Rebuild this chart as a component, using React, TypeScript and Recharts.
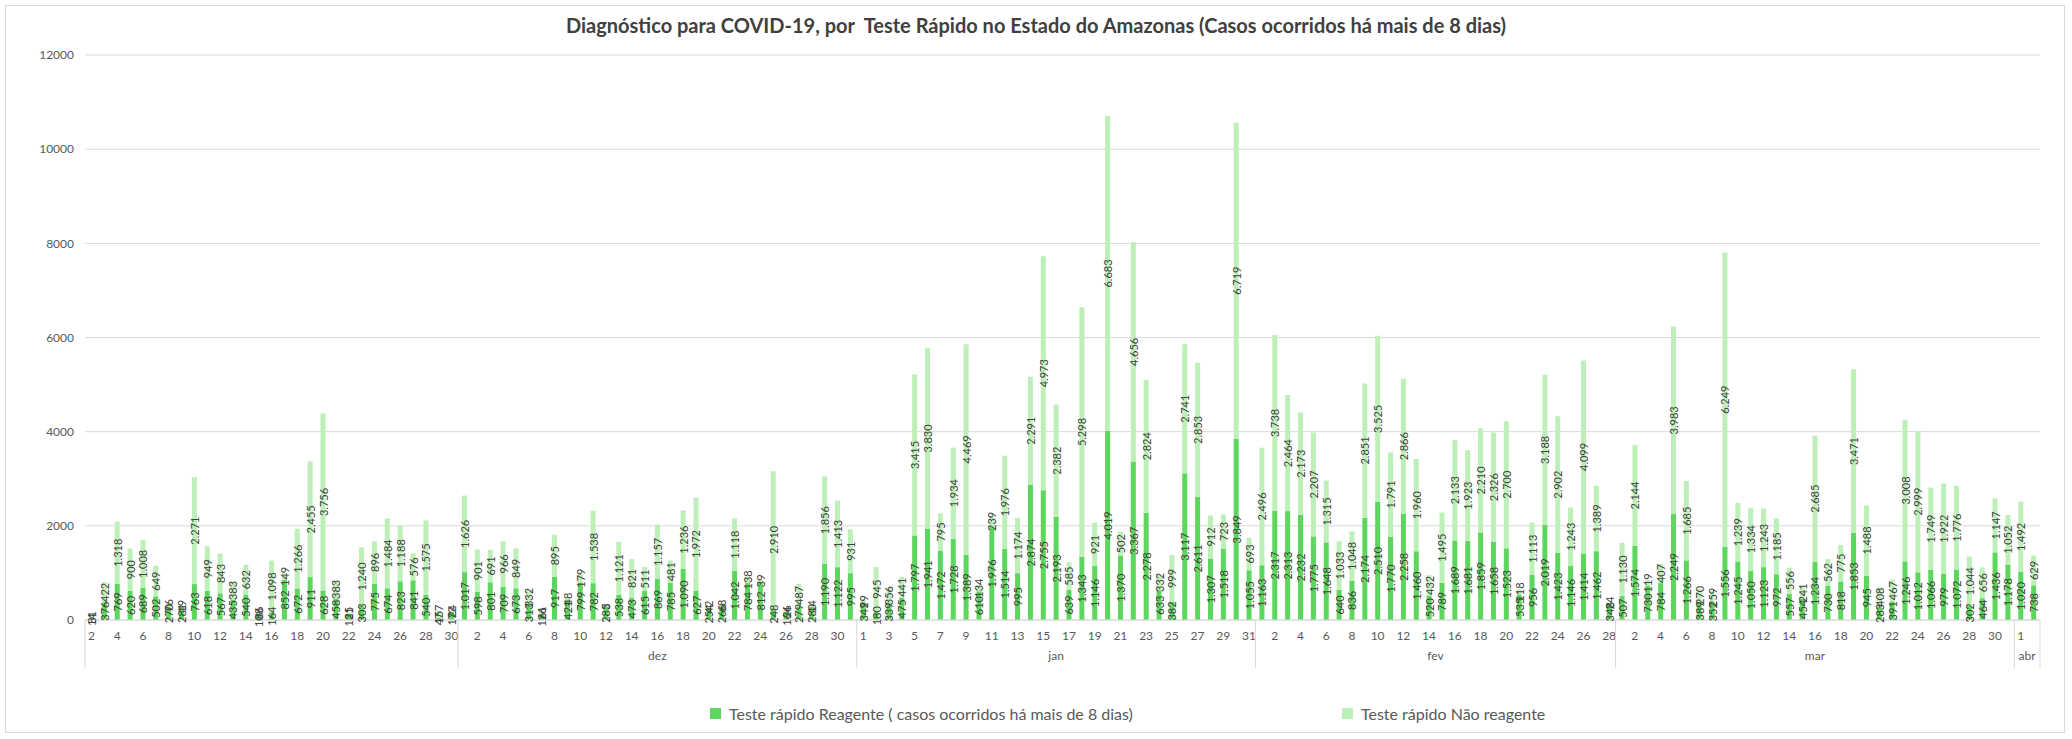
import React from 'react'
import { BarChart, Bar, XAxis, YAxis, CartesianGrid, LabelList } from 'recharts'

// categorias: 2 nov até 2 abr
const meses = ['nov', 'dez', 'jan', 'fev', 'mar', 'abr']
const rotulosMes = ['', 'dez', 'jan', 'fev', 'mar', 'abr']
const diaInicial = [2, 1, 1, 1, 1, 1]
const diaFinal = [30, 31, 31, 28, 31, 2]

const yTicks = [0, 2000, 4000, 6000, 8000, 10000, 12000]

// Teste rápido Reagente (casos ocorridos há mais de 8 dias)
const reagenteNov = [14, 376, 769, 620, 689, 502, 270, 281, 763, 618, 567, 435, 540, 108, 164, 852, 672, 911, 628, 458, 131, 303, 775, 674, 823, 841, 540, 47, 172]
const reagenteDez = [1017, 598, 801, 709, 673, 313, 126, 917, 421, 799, 782, 285, 538, 473, 615, 869, 785, 1090, 627, 254, 266, 1042, 784, 812, 248, 164, 279, 280, 1190, 1122, 995]
const reagenteJan = [342, 180, 339, 475, 1797, 1941, 1472, 1728, 1389, 610, 1976, 1514, 995, 2874, 2755, 2193, 639, 1343, 1146, 4019, 1370, 3367, 2278, 633, 382, 3117, 2611, 1307, 1518, 3849, 1055]
const reagenteFev = [1163, 2317, 2313, 2232, 1775, 1648, 640, 836, 2174, 2510, 1770, 2258, 1460, 520, 789, 1689, 1681, 1859, 1658, 1523, 535, 956, 2019, 1423, 1146, 1414, 1462, 348]
const reagenteMar = [507, 1574, 730, 784, 2249, 1266, 389, 352, 1556, 1245, 1050, 1123, 972, 557, 454, 1234, 730, 818, 1853, 945, 283, 391, 1246, 1012, 1066, 979, 1072, 302, 464, 1436, 1178]
const reagenteAbr = [1020, 738]

// Teste rápido Não reagente
const naoReagenteNov = [81, 422, 1318, 900, 1008, 649, 76, 19, 2271, 949, 843, 383, 632, 86, 1098, 149, 1266, 2455, 3756, 383, 25, 1240, 896, 1484, 1188, 576, 1575, 157, 24]
const naoReagenteDez = [1626, 901, 691, 966, 849, 332, 61, 895, 48, 179, 1538, 3, 1121, 821, 511, 1157, 481, 1236, 1972, 42, 68, 1118, 138, 39, 2910, 26, 487, 14, 1856, 1413, 931]
const naoReagenteJan = [99, 945, 356, 441, 3415, 3830, 795, 1934, 4469, 134, 239, 1976, 1174, 2291, 4973, 2382, 585, 5298, 921, 6683, 502, 4656, 2824, 332, 999, 2741, 2853, 912, 723, 6719, 693]
const naoReagenteFev = [2496, 3738, 2464, 2173, 2207, 1315, 1033, 1048, 2851, 3525, 1791, 2866, 1960, 432, 1495, 2133, 1923, 2210, 2326, 2700, 118, 1113, 3188, 2902, 1243, 4099, 1389, 24]
const naoReagenteMar = [1130, 2144, 119, 407, 3983, 1685, 270, 259, 6249, 1239, 1334, 1243, 1185, 556, 241, 2685, 562, 775, 3471, 1488, 408, 467, 3008, 2999, 1749, 1922, 1776, 1044, 656, 1147, 1052]
const naoReagenteAbr = [1492, 629]

const reagente = [...reagenteNov, ...reagenteDez, ...reagenteJan, ...reagenteFev, ...reagenteMar, ...reagenteAbr]
const naoReagente = [...naoReagenteNov, ...naoReagenteDez, ...naoReagenteJan, ...naoReagenteFev, ...naoReagenteMar, ...naoReagenteAbr]

type Row = { key: string; dia: number; mes: number; reagente: number; naoReagente: number }

const data: Row[] = []
const inicioMes: number[] = []
meses.forEach((m, mi) => {
  inicioMes.push(data.length)
  for (let d = diaInicial[mi]; d <= diaFinal[mi]; d++) {
    const i = data.length
    data.push({ key: `${d} ${m}`, dia: d, mes: mi, reagente: reagente[i], naoReagente: naoReagente[i] })
  }
})
const indexByKey: Record<string, number> = Object.fromEntries(data.map((r, i) => [r.key, i]))

const W = 2072
const H = 739
const MARGIN = { top: 55, right: 32, bottom: 67, left: 13 }
const YAXIS_W = 72
const DAY_AXIS_H = 22
const MONTH_AXIS_H = 30
const BAND = (W - MARGIN.left - YAXIS_W - MARGIN.right) / data.length

const FONT = 'Lato, "Open Sans", sans-serif'
const GREY = '#595959'
const LINE = '#d9d9d9'
const DARK = '#5cd65c'
const LIGHT = '#bdefb8'

const fmt = (v: number) => String(v).replace(/\B(?=(\d{3})+(?!\d))/g, '.')

function RotLabel(props: any) {
  const { x, y, width, height, value } = props
  if (value == null) return null
  const cx = Number(x) + Number(width) / 2
  const cy = Number(y) + Number(height) / 2
  return (
    <text
      x={cx}
      y={cy}
      transform={`rotate(-90 ${cx} ${cy})`}
      textAnchor="middle"
      dominantBaseline="central"
      fontSize={11}
      fontFamily={FONT}
      fill="#404040"
    >
      {fmt(value)}
    </text>
  )
}

function DayTick(props: any) {
  const { x, y, payload } = props
  const row = data[indexByKey[payload.value]]
  if (!row) return null
  return (
    <text x={x} y={y} textAnchor="middle" dominantBaseline="central" fontSize={12} fontFamily={FONT} fill={GREY}>
      {row.dia}
    </text>
  )
}

function MonthTick(props: any) {
  const { x, y, payload } = props
  const i = indexByKey[payload.value]
  const row = data[i]
  if (!row) return null
  const top = y - DAY_AXIS_H
  const bottom = y + 26
  const start = inicioMes[row.mes] === i
  const len = diaFinal[row.mes] - diaInicial[row.mes] + 1
  return (
    <g>
      {start && <line x1={x - BAND / 2} x2={x - BAND / 2} y1={top} y2={bottom} stroke={LINE} />}
      {i === data.length - 1 && <line x1={x + BAND / 2} x2={x + BAND / 2} y1={top} y2={bottom} stroke={LINE} />}
      {start && (
        <text
          x={x + ((len - 1) / 2) * BAND}
          y={y + 13}
          textAnchor="middle"
          dominantBaseline="central"
          fontSize={12}
          fontFamily={FONT}
          fill={GREY}
        >
          {rotulosMes[row.mes]}
        </text>
      )}
    </g>
  )
}

function LegendItem({ color, label, left }: { color: string; label: string; left: number }) {
  return (
    <div style={{ position: 'absolute', left, top: 0, display: 'flex', alignItems: 'center', gap: 8, whiteSpace: 'nowrap' }}>
      <span style={{ width: 11, height: 11, background: color, display: 'inline-block' }} />
      <span>{label}</span>
    </div>
  )
}

export default function App() {
  return (
    <div style={{ position: 'absolute', left: 0, top: 0, width: W, height: H, background: '#fff', fontFamily: FONT }}>
      <div
        style={{
          position: 'absolute',
          left: 5,
          top: 5,
          width: W - 12,
          height: H - 11,
          border: `1px solid ${LINE}`,
          boxSizing: 'border-box',
        }}
      />
      <div
        style={{
          position: 'absolute',
          top: 13,
          left: 0,
          width: W,
          textAlign: 'center',
          fontSize: 20,
          fontWeight: 700,
          color: '#404040',
        }}
      >
        Diagnóstico para COVID-19, por&nbsp; Teste Rápido no Estado do Amazonas (Casos ocorridos há mais de 8 dias)
      </div>
      <div style={{ position: 'absolute', top: 0, left: 0 }}>
        <BarChart width={W} height={H} data={data} margin={MARGIN} barSize={5}>
          <CartesianGrid vertical={false} stroke={LINE} xAxisId="day" />
          <XAxis
            xAxisId="day"
            dataKey="key"
            interval={1}
            height={DAY_AXIS_H}
            tickLine={false}
            tickSize={0}
            tickMargin={15}
            axisLine={{ stroke: LINE }}
            tick={<DayTick />}
          />
          <XAxis
            xAxisId="month"
            dataKey="key"
            interval={0}
            height={MONTH_AXIS_H}
            tickLine={false}
            tickSize={0}
            tickMargin={0}
            axisLine={false}
            tick={<MonthTick />}
          />
          <YAxis
            width={YAXIS_W}
            domain={[0, 12000]}
            ticks={yTicks}
            axisLine={false}
            tickLine={false}
            tickSize={8}
            tickMargin={3}
            tick={{ fill: GREY, fontSize: 12, fontFamily: FONT }}
          />
          <Bar xAxisId="day" dataKey="reagente" stackId="a" fill={DARK} isAnimationActive={false}>
            <LabelList dataKey="reagente" content={<RotLabel />} />
          </Bar>
          <Bar xAxisId="day" dataKey="naoReagente" stackId="a" fill={LIGHT} isAnimationActive={false}>
            <LabelList dataKey="naoReagente" content={<RotLabel />} />
          </Bar>
        </BarChart>
      </div>
      <div style={{ position: 'absolute', top: 704, left: 0, width: W, height: 22, fontSize: 16, color: GREY }}>
        <LegendItem color={DARK} left={710} label="Teste rápido Reagente ( casos ocorridos há mais de 8 dias)" />
        <LegendItem color={LIGHT} left={1342} label="Teste rápido Não reagente" />
      </div>
    </div>
  )
}
